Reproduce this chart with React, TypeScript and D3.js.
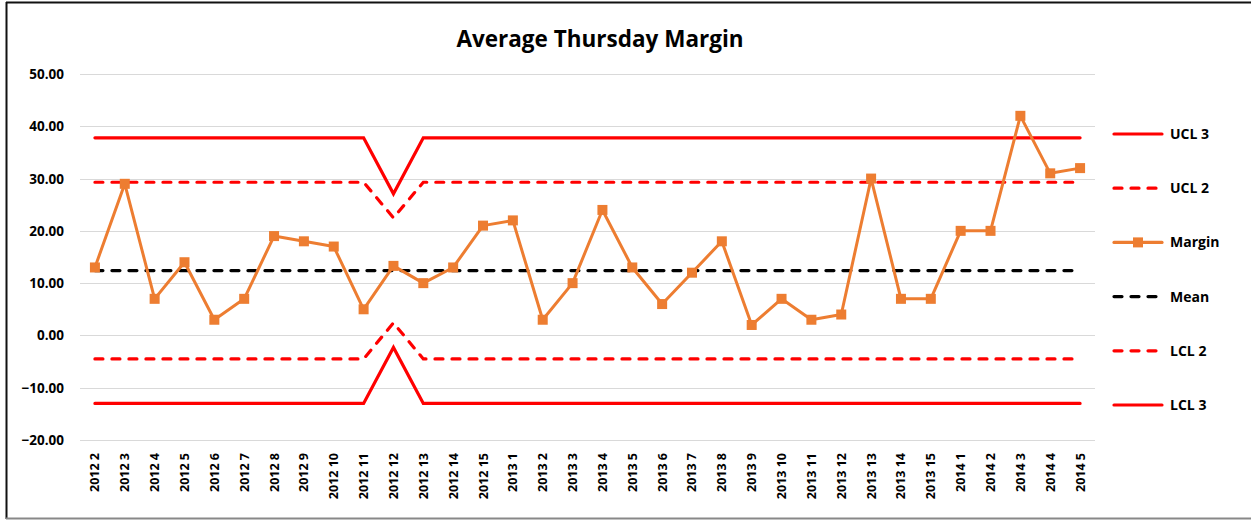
import React from 'react';
import * as d3 from 'd3';

const width = 1251;
const height = 521;

const categories = [
  '2012 2', '2012 3', '2012 4', '2012 5', '2012 6', '2012 7', '2012 8', '2012 9', '2012 10',
  '2012 11', '2012 12', '2012 13', '2012 14', '2012 15',
  '2013 1', '2013 2', '2013 3', '2013 4', '2013 5', '2013 6', '2013 7', '2013 8', '2013 9',
  '2013 10', '2013 11', '2013 12', '2013 13', '2013 14', '2013 15',
  '2014 1', '2014 2', '2014 3', '2014 4', '2014 5',
];

const margin = [13, 29, 7, 14, 3, 7, 19, 18, 17, 5, 13.3, 10, 13, 21, 22, 3, 10, 24, 13, 6, 12, 18, 2, 7, 3, 4, 30, 7, 7, 20, 20, 42, 31, 32];
const mean = [12.4, 12.4, 12.4, 12.4, 12.4, 12.4, 12.4, 12.4, 12.4, 12.4, 12.4, 12.4, 12.4, 12.4, 12.4, 12.4, 12.4, 12.4, 12.4, 12.4, 12.4, 12.4, 12.4, 12.4, 12.4, 12.4, 12.4, 12.4, 12.4, 12.4, 12.4, 12.4, 12.4, 12.4];
const ucl3 = [37.8, 37.8, 37.8, 37.8, 37.8, 37.8, 37.8, 37.8, 37.8, 37.8, 27.1, 37.8, 37.8, 37.8, 37.8, 37.8, 37.8, 37.8, 37.8, 37.8, 37.8, 37.8, 37.8, 37.8, 37.8, 37.8, 37.8, 37.8, 37.8, 37.8, 37.8, 37.8, 37.8, 37.8];
const ucl2 = [29.3, 29.3, 29.3, 29.3, 29.3, 29.3, 29.3, 29.3, 29.3, 29.3, 22.5, 29.3, 29.3, 29.3, 29.3, 29.3, 29.3, 29.3, 29.3, 29.3, 29.3, 29.3, 29.3, 29.3, 29.3, 29.3, 29.3, 29.3, 29.3, 29.3, 29.3, 29.3, 29.3, 29.3];
const lcl2 = [-4.5, -4.5, -4.5, -4.5, -4.5, -4.5, -4.5, -4.5, -4.5, -4.5, 2.4, -4.5, -4.5, -4.5, -4.5, -4.5, -4.5, -4.5, -4.5, -4.5, -4.5, -4.5, -4.5, -4.5, -4.5, -4.5, -4.5, -4.5, -4.5, -4.5, -4.5, -4.5, -4.5, -4.5];
const lcl3 = [-13, -13, -13, -13, -13, -13, -13, -13, -13, -13, -2.3, -13, -13, -13, -13, -13, -13, -13, -13, -13, -13, -13, -13, -13, -13, -13, -13, -13, -13, -13, -13, -13, -13, -13];

const yTicks = [-20, -10, 0, 10, 20, 30, 40, 50];

const font = '"Open Sans", Lato, sans-serif';
const red = '#FF0000';
const orange = '#ED7D31';

const legendItems = [
  { label: 'UCL 3', color: red, dash: null, marker: false },
  { label: 'UCL 2', color: red, dash: '8,9', marker: false },
  { label: 'Margin', color: orange, dash: null, marker: true },
  { label: 'Mean', color: '#000', dash: '8,9', marker: false },
  { label: 'LCL 2', color: red, dash: '8,9', marker: false },
  { label: 'LCL 3', color: red, dash: null, marker: false },
];

export default function App() {
  const x = d3.scalePoint<string>().domain(categories).range([80, 1095]).padding(0.5);
  const y = d3.scaleLinear().domain([-20, 50]).range([440, 74]);

  const line = d3.line<number>()
    .x((_, i) => x(categories[i]) as number)
    .y(d => y(d));

  const series = [
    { values: ucl3, color: red, dash: null },
    { values: ucl2, color: red, dash: '8,9' },
    { values: lcl2, color: red, dash: '8,9' },
    { values: lcl3, color: red, dash: null },
    { values: mean, color: '#000', dash: '8,9' },
  ];

  return (
    <svg width={width} height={height} style={{ position: 'absolute', left: 0, top: 0, background: '#fff' }}>
      {/* frame */}
      <line x1={6.5} x2={6.5} y1={2} y2={519} stroke="#111" strokeWidth={2} />
      <line x1={6} x2={width} y1={2.5} y2={2.5} stroke="#111" strokeWidth={2} />
      <line x1={6} x2={width} y1={518.5} y2={518.5} stroke="#888" strokeWidth={2} />

      <text x={600} y={47} textAnchor="middle" fontFamily={font} fontWeight="bold" fontSize={22.5}>
        Average Thursday Margin
      </text>

      {yTicks.map(t => (
        <g key={t}>
          <line x1={80} x2={1095} y1={Math.round(y(t)) + 0.5} y2={Math.round(y(t)) + 0.5} stroke="#D9D9D9" strokeWidth={1} />
          <text x={64} y={y(t) + 5} textAnchor="end" fontFamily={font} fontWeight="bold" fontSize={13.5}>
            {d3.format('.2f')(t)}
          </text>
        </g>
      ))}

      {categories.map(c => (
        <text key={c} transform={`translate(${(x(c) as number) + 4.5},453) rotate(-90)`} textAnchor="end"
          fontFamily={font} fontWeight="bold" fontSize={12.5}>
          {c}
        </text>
      ))}

      {series.map((s, i) => (
        <path key={i} d={line(s.values) ?? ''} fill="none" stroke={s.color} strokeWidth={3.2}
          strokeDasharray={s.dash ?? undefined} strokeLinecap="round" strokeLinejoin="miter" />
      ))}

      <path d={line(margin) ?? ''} fill="none" stroke={orange} strokeWidth={3} strokeLinejoin="round" />
      {margin.map((v, i) => (
        <rect key={i} x={(x(categories[i]) as number) - 5} y={y(v) - 5} width={10} height={10} fill={orange} />
      ))}

      {legendItems.map((it, i) => {
        const ly = 134 + i * 54.2;
        return (
          <g key={it.label}>
            <line x1={1114} x2={1162} y1={ly} y2={ly} stroke={it.color} strokeWidth={3.2}
              strokeDasharray={it.dash ?? undefined} strokeLinecap="round" />
            {it.marker && <rect x={1133} y={ly - 5} width={10} height={10} fill={orange} />}
            <text x={1170} y={ly + 5} fontFamily={font} fontWeight="bold" fontSize={14}>{it.label}</text>
          </g>
        );
      })}
    </svg>
  );
}
